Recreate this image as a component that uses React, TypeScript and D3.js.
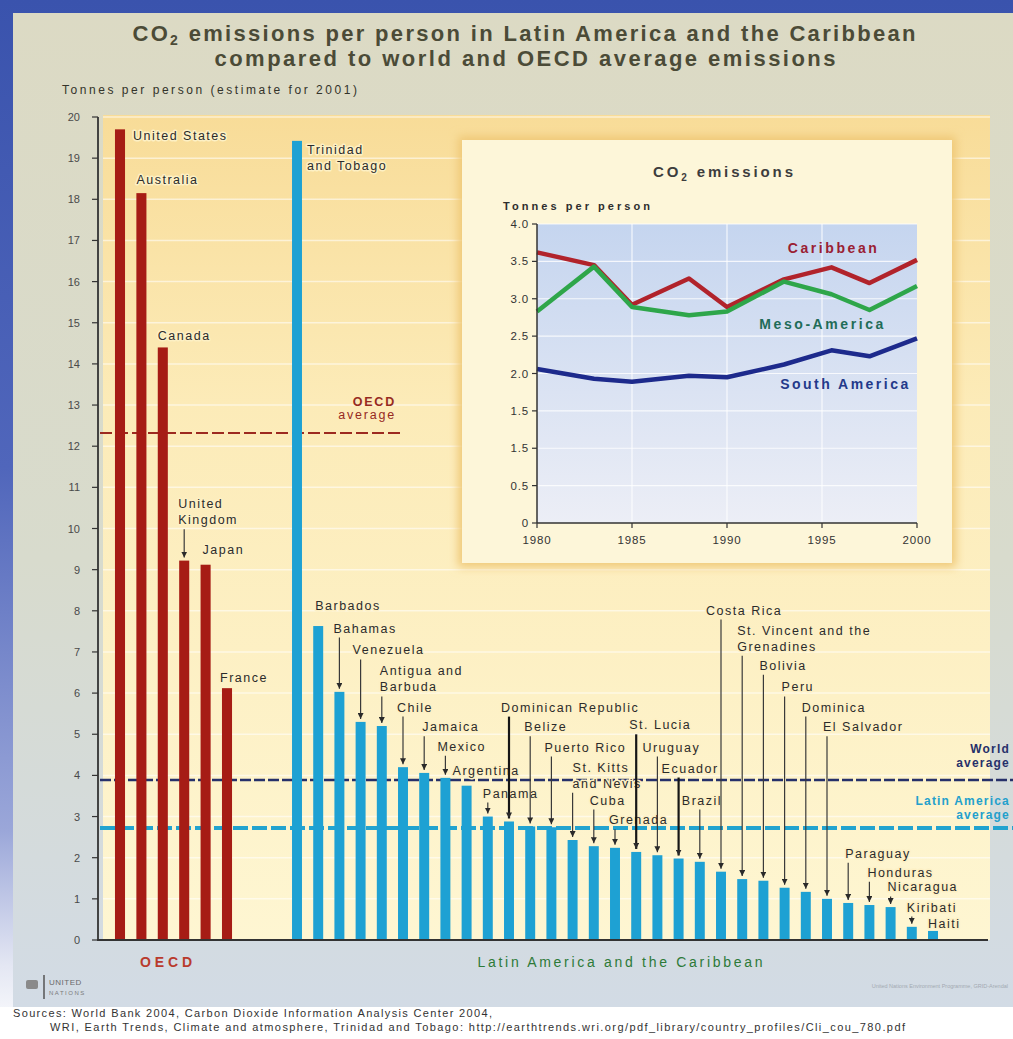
import React from "react"
import * as d3 from "d3"

const OECD_RED = "#a61c15"
const LATIN_BLUE = "#1ea1d3"

const oecdCountries = ["United States", "Australia", "Canada", "United Kingdom", "Japan", "France"]
const oecdValues = [19.7, 18.15, 14.4, 9.22, 9.12, 6.12]

const latinCountries = [
  "Trinidad and Tobago", "Barbados", "Bahamas", "Venezuela", "Antigua and Barbuda", "Chile", "Jamaica", "Mexico",
  "Argentina", "Panama", "Dominican Republic", "Belize", "Puerto Rico", "St. Kitts and Nevis", "Cuba", "Grenada",
  "St. Lucia", "Uruguay", "Ecuador", "Brazil", "Costa Rica", "St. Vincent and the Grenadines", "Bolivia", "Peru",
  "Dominica", "El Salvador", "Paraguay", "Honduras", "Nicaragua", "Kiribati", "Haiti",
]
const latinValues = [
  19.42, 7.63, 6.03, 5.3, 5.2, 4.2, 4.06, 3.94, 3.75, 3.0, 2.88, 2.76, 2.74, 2.43, 2.28, 2.24, 2.14, 2.06, 1.98,
  1.9, 1.66, 1.48, 1.44, 1.27, 1.17, 1.0, 0.9, 0.85, 0.8, 0.32, 0.22,
]

const oecdAverage = 12.32
const worldAverage = 3.89
const latinAverage = 2.72

const yTicks = d3.range(0, 21)

// inset: CO2 emissions 1980-2000
const insetYears = [1980, 1983, 1985, 1988, 1990, 1993, 1995.5, 1997.5, 2000]
const caribbean = [3.62, 3.45, 2.92, 3.27, 2.89, 3.26, 3.42, 3.21, 3.52]
const mesoAmerica = [2.83, 3.43, 2.89, 2.78, 2.83, 3.23, 3.06, 2.85, 3.17]
const southAmerica = [2.06, 1.93, 1.89, 1.97, 1.95, 2.12, 2.31, 2.23, 2.47]
const insetYTicks = [0, 0.5, 1, 1.5, 2, 2.5, 3, 3.5, 4]
const insetYTickLabels = ["0", "0.5", "1.5", "1.5", "2.0", "2.5", "3.0", "3.5", "4.0"]
const insetXTicks = [1980, 1985, 1990, 1995, 2000]

// where each country name sits: dx from bar centre (px), level = baseline in tonnes
type Label = { lines: string[]; dx: number; level: number; arrow?: "thin" | "thick" }
const labelLayout: Record<string, Label> = {
  "United States": { lines: ["United States"], dx: 13, level: 19.43 },
  Australia: { lines: ["Australia"], dx: -5, level: 18.36 },
  Canada: { lines: ["Canada"], dx: -5, level: 14.57 },
  "United Kingdom": { lines: ["United", "Kingdom"], dx: -6, level: 10.49, arrow: "thin" },
  Japan: { lines: ["Japan"], dx: -3, level: 9.37 },
  France: { lines: ["France"], dx: -7, level: 6.28 },
  "Trinidad and Tobago": { lines: ["Trinidad", "and Tobago"], dx: 10, level: 19.11 },
  Barbados: { lines: ["Barbados"], dx: -3, level: 8.03 },
  Bahamas: { lines: ["Bahamas"], dx: -6, level: 7.47, arrow: "thin" },
  Venezuela: { lines: ["Venezuela"], dx: -8, level: 6.94, arrow: "thin" },
  "Antigua and Barbuda": { lines: ["Antigua and", "Barbuda"], dx: -2, level: 6.43, arrow: "thin" },
  Chile: { lines: ["Chile"], dx: -6, level: 5.55, arrow: "thin" },
  Jamaica: { lines: ["Jamaica"], dx: -2, level: 5.07, arrow: "thin" },
  Mexico: { lines: ["Mexico"], dx: -8, level: 4.6, arrow: "thin" },
  Argentina: { lines: ["Argentina"], dx: -14, level: 4.02 },
  Panama: { lines: ["Panama"], dx: -5, level: 3.46, arrow: "thin" },
  "Dominican Republic": { lines: ["Dominican Republic"], dx: -8, level: 5.55, arrow: "thick" },
  Belize: { lines: ["Belize"], dx: -6, level: 5.07, arrow: "thin" },
  "Puerto Rico": { lines: ["Puerto Rico"], dx: -7, level: 4.58, arrow: "thin" },
  "St. Kitts and Nevis": { lines: ["St. Kitts", "and Nevis"], dx: 0, level: 4.09, arrow: "thin" },
  Cuba: { lines: ["Cuba"], dx: -4, level: 3.29, arrow: "thin" },
  Grenada: { lines: ["Grenada"], dx: -6, level: 2.81, arrow: "thin" },
  "St. Lucia": { lines: ["St. Lucia"], dx: -7, level: 5.12, arrow: "thick" },
  Uruguay: { lines: ["Uruguay"], dx: -15, level: 4.58, arrow: "thin" },
  Ecuador: { lines: ["Ecuador"], dx: -17, level: 4.07, arrow: "thick" },
  Brazil: { lines: ["Brazil"], dx: -18, level: 3.29, arrow: "thin" },
  "Costa Rica": { lines: ["Costa Rica"], dx: -15, level: 7.91, arrow: "thin" },
  "St. Vincent and the Grenadines": { lines: ["St. Vincent and the", "Grenadines"], dx: -5, level: 7.42, arrow: "thin" },
  Bolivia: { lines: ["Bolivia"], dx: -4, level: 6.57, arrow: "thin" },
  Peru: { lines: ["Peru"], dx: -3, level: 6.04, arrow: "thin" },
  Dominica: { lines: ["Dominica"], dx: -4, level: 5.55, arrow: "thin" },
  "El Salvador": { lines: ["El Salvador"], dx: -4, level: 5.07, arrow: "thin" },
  Paraguay: { lines: ["Paraguay"], dx: -3, level: 2.0, arrow: "thin" },
  Honduras: { lines: ["Honduras"], dx: -2, level: 1.54, arrow: "thin" },
  Nicaragua: { lines: ["Nicaragua"], dx: -3, level: 1.18, arrow: "thin" },
  Kiribati: { lines: ["Kiribati"], dx: -5, level: 0.69, arrow: "thin" },
  Haiti: { lines: ["Haiti"], dx: -5, level: 0.3 },
}

const FONT = "'Liberation Sans', Arial, Helvetica, sans-serif"
const LINE_H = 16

export default function App() {
  const width = 1013
  const height = 1039

  const y = d3.scaleLinear().domain([0, 20]).range([940, 117])
  const oecdX = d3.scaleBand<string>().domain(oecdCountries).range([109.3, 237.7]).paddingInner(0.53).paddingOuter(0.265)
  const latinX = d3
    .scaleBand<string>()
    .domain(latinCountries)
    .range([286.4, 943.6])
    .paddingInner(0.53)
    .paddingOuter(0.265)

  const bars = [
    ...oecdCountries.map((name, i) => ({ name, value: oecdValues[i], x: oecdX(name)!, w: oecdX.bandwidth(), color: OECD_RED })),
    ...latinCountries.map((name, i) => ({
      name,
      value: latinValues[i],
      x: latinX(name)!,
      w: latinX.bandwidth(),
      color: LATIN_BLUE,
    })),
  ]

  const ix = d3.scaleLinear().domain([1980, 2000]).range([537, 917])
  const iy = d3.scaleLinear().domain([0, 4]).range([523, 224])
  const seriesLine = d3
    .line<number>()
    .x((_, i) => ix(insetYears[i]))
    .y((d) => iy(d))
  const insetSeries = [
    { name: "Caribbean", values: caribbean, stroke: "#b1232b", fill: "#9a2033", lx: 1993.2, ly: 3.61, tl: 89 },
    { name: "Meso-America", values: mesoAmerica, stroke: "#2ea64a", fill: "#1f6c58", lx: 1991.7, ly: 2.6, tl: 124 },
    { name: "South America", values: southAmerica, stroke: "#1d2a8c", fill: "#23398a", lx: 1992.8, ly: 1.79, tl: 128 },
  ]

  const halo = { paintOrder: "stroke" as const, stroke: "#fdf0c4", strokeWidth: 3, strokeLinejoin: "round" as const }

  return (
    <div style={{ position: "absolute", left: 0, top: 0 }}>
      <svg width={width} height={height} style={{ display: "block", fontFamily: FONT }}>
        <defs>
          <linearGradient id="outerBg" x1="0" y1="0" x2="0" y2="1">
            <stop offset="0" stopColor="#3a53ad" />
            <stop offset="0.45" stopColor="#5066bb" />
            <stop offset="0.8" stopColor="#9ba7d9" />
            <stop offset="0.93" stopColor="#e4e7f3" />
            <stop offset="1" stopColor="#ffffff" />
          </linearGradient>
          <linearGradient id="panelBg" x1="0" y1="0" x2="0" y2="1">
            <stop offset="0" stopColor="#dcdac4" />
            <stop offset="0.55" stopColor="#d8dbcd" />
            <stop offset="1" stopColor="#d2dbe5" />
          </linearGradient>
          <linearGradient id="plotBg" x1="0" y1="0" x2="0" y2="1">
            <stop offset="0" stopColor="#f8dc98" />
            <stop offset="0.35" stopColor="#fcebb8" />
            <stop offset="1" stopColor="#fef6d2" />
          </linearGradient>
          <linearGradient id="insetPlotBg" x1="0" y1="0" x2="0" y2="1">
            <stop offset="0" stopColor="#c5d5ef" />
            <stop offset="1" stopColor="#eceef6" />
          </linearGradient>
          <filter id="blur" x="-10%" y="-10%" width="120%" height="120%">
            <feGaussianBlur stdDeviation="5" />
          </filter>
          <marker id="arrowHead" viewBox="0 0 6 6" refX="6" refY="3" markerWidth="6" markerHeight="6" orient="auto" markerUnits="userSpaceOnUse">
            <path d="M0,0 L6,3 L0,6 z" fill="#2a2a2a" />
          </marker>
        </defs>

        {/* backgrounds */}
        <rect x={0} y={0} width={width} height={height} fill="url(#outerBg)" />
        <rect x={13} y={13} width={width - 13} height={994} fill="url(#panelBg)" />
        <rect x={0} y={1007} width={width} height={height - 1007} fill="#ffffff" />

        {/* title */}
        <text x={524} y={41} textAnchor="middle" fontSize={22} fontWeight="bold" fill="#4b4b37" textLength={783} lengthAdjust="spacing">
          CO<tspan dy={4} fontSize={14}>2</tspan>
          <tspan dy={-4}> emissions per person in Latin America and the Caribbean</tspan>
        </text>
        <text x={525} y={66} textAnchor="middle" fontSize={22} fontWeight="bold" fill="#4b4b37" textLength={621} lengthAdjust="spacing">
          compared to world and OECD average emissions
        </text>
        <text x={62} y={94} fontSize={12} fill="#33332a" textLength={295} lengthAdjust="spacing">
          Tonnes per person (estimate for 2001)
        </text>

        {/* plot background and grid */}
        <rect x={103} y={115} width={887} height={y(0) - 115} fill="url(#plotBg)" />
        {yTicks
          .filter((t) => t > 0)
          .map((t) => (
            <line key={t} x1={103} x2={990} y1={y(t)} y2={y(t)} stroke="#ffffff" strokeOpacity={0.55} strokeWidth={1.5} />
          ))}

        {/* averages */}
        <line x1={100} x2={400} y1={y(oecdAverage)} y2={y(oecdAverage)} stroke="#9c2a20" strokeWidth={2} strokeDasharray="12 4" />
        <line x1={100} x2={width} y1={y(worldAverage)} y2={y(worldAverage)} stroke="#26306a" strokeWidth={2.5} strokeDasharray="11 3" />
        <line x1={100} x2={width} y1={y(latinAverage)} y2={y(latinAverage)} stroke="#22a3cf" strokeWidth={4} strokeDasharray="15 4" />

        {/* bars */}
        {bars.map((b) => (
          <rect key={b.name} x={b.x} y={y(b.value)} width={b.w} height={y(0) - y(b.value)} fill={b.color} />
        ))}

        {/* y axis */}
        <line x1={98} x2={98} y1={y(20)} y2={y(0)} stroke="#333" strokeWidth={1.8} />
        <line x1={97} x2={988} y1={y(0)} y2={y(0)} stroke="#333" strokeWidth={2} />
        {yTicks.map((t) => (
          <g key={t}>
            <line x1={92} x2={98} y1={y(t)} y2={y(t)} stroke="#333" strokeWidth={1.2} />
            <text x={80} y={y(t) + 4} textAnchor="end" fontSize={11} fill="#4a4a4a">
              {t}
            </text>
          </g>
        ))}

        {/* average labels */}
        <g fontSize={12.5} fill="#962a1f" textAnchor="end" letterSpacing={1.8}>
          <text x={396} y={406} fontWeight="bold">OECD</text>
          <text x={396} y={419}>average</text>
        </g>
        <g fontSize={12} fontWeight="bold" textAnchor="end" letterSpacing={1.2}>
          <text x={1010} y={753} fill="#26306a">World</text>
          <text x={1010} y={767} fill="#26306a">average</text>
          <text x={1010} y={805} fill="#23a0cc">Latin America</text>
          <text x={1010} y={819} fill="#23a0cc">average</text>
        </g>

        {/* country labels and pointers */}
        {bars.map((b) => {
          const lab = labelLayout[b.name]
          if (!lab) return null
          const cx = b.x + b.w / 2
          const base = y(lab.level)
          const lastBase = base + (lab.lines.length - 1) * LINE_H
          return (
            <g key={b.name}>
              {lab.arrow && (
                <line
                  x1={cx}
                  x2={cx}
                  y1={lastBase + 5}
                  y2={y(b.value) - 3}
                  stroke={lab.arrow === "thick" ? "#161616" : "#3a3a3a"}
                  strokeWidth={lab.arrow === "thick" ? 2.2 : 1.2}
                  markerEnd="url(#arrowHead)"
                />
              )}
              {lab.lines.map((ln, i) => (
                <text key={i} x={cx + lab.dx} y={base + i * LINE_H} fontSize={12.5} letterSpacing={1.5} fill="#2b2b2b" style={halo}>
                  {ln}
                </text>
              ))}
            </g>
          )
        })}

        {/* group names */}
        <text x={166} y={967} textAnchor="middle" fontSize={14} fontWeight="bold" fill="#b93a2c" textLength={52} lengthAdjust="spacing">
          OECD
        </text>
        <text x={620} y={967} textAnchor="middle" fontSize={14} fill="#2d7a38" textLength={285} lengthAdjust="spacing">
          Latin America and the Caribbean
        </text>

        {/* logo + credits */}
        <g fill="#6d6d6d" stroke="none">
          <rect x={26} y={980} width={12} height={9} rx={2} fill="#8a8a8a" />
          <line x1={44} x2={44} y1={975} y2={999} stroke="#555" strokeWidth={1.5} />
          <text x={49} y={985} fontSize={8} fill="#6a6a6a" letterSpacing={0.5}>UNITED</text>
          <text x={49} y={995} fontSize={6} fill="#7a7a7a" letterSpacing={1.5}>NATIONS</text>
        </g>
        <text x={1008} y={988} textAnchor="end" fontSize={5.5} fill="#a3aab2">
          United Nations Environment Programme, GRID-Arendal
        </text>

        {/* sources */}
        <text x={13} y={1017} fontSize={11} fill="#333" textLength={479} lengthAdjust="spacing">
          Sources: World Bank 2004, Carbon Dioxide Information Analysis Center 2004,
        </text>
        <text x={50} y={1031} fontSize={11} fill="#333" textLength={855} lengthAdjust="spacing">
          WRI, Earth Trends, Climate and atmosphere, Trinidad and Tobago: http://earthtrends.wri.org/pdf_library/country_profiles/Cli_cou_780.pdf
        </text>

        {/* inset chart */}
        <rect x={458} y={136} width={498} height={431} fill="#efc877" filter="url(#blur)" />
        <rect x={462} y={140} width={490} height={423} fill="#fdf6d9" />
        <text x={723} y={177} textAnchor="middle" fontSize={15} fontWeight="bold" fill="#3d3d3d" textLength={140} lengthAdjust="spacing">
          CO<tspan dy={4} fontSize={10}>2</tspan>
          <tspan dy={-4}> emissions</tspan>
        </text>
        <text x={503} y={210} fontSize={11} fontWeight="bold" fill="#2e2e2e" textLength={147} lengthAdjust="spacing">
          Tonnes per person
        </text>
        <rect x={ix(1980)} y={iy(4)} width={ix(2000) - ix(1980)} height={iy(0) - iy(4)} fill="url(#insetPlotBg)" />
        {insetYTicks
          .filter((t) => t > 0)
          .map((t) => (
            <line key={t} x1={ix(1980)} x2={ix(2000)} y1={iy(t)} y2={iy(t)} stroke="#ffffff" strokeOpacity={0.8} strokeWidth={1.2} />
          ))}
        {insetXTicks
          .filter((t) => t > 1980 && t < 2000)
          .map((t) => (
            <line key={t} x1={ix(t)} x2={ix(t)} y1={iy(0)} y2={iy(4)} stroke="#ffffff" strokeOpacity={0.8} strokeWidth={1.2} />
          ))}
        {insetSeries.map((s) => (
          <path key={s.name} d={seriesLine(s.values) ?? ""} fill="none" stroke={s.stroke} strokeWidth={4.5} strokeLinejoin="round" />
        ))}
        {insetSeries.map((s) => (
          <text key={s.name} x={ix(s.lx)} y={iy(s.ly)} fontSize={14} fontWeight="bold" fill={s.fill} textLength={s.tl} lengthAdjust="spacing">
            {s.name}
          </text>
        ))}
        <line x1={ix(1980)} x2={ix(1980)} y1={iy(4)} y2={iy(0)} stroke="#333" strokeWidth={1.5} />
        <line x1={ix(1980)} x2={ix(2000)} y1={iy(0)} y2={iy(0)} stroke="#333" strokeWidth={1.5} />
        {insetYTicks.map((t, i) => (
          <g key={t}>
            <line x1={ix(1980) - 5} x2={ix(1980)} y1={iy(t)} y2={iy(t)} stroke="#333" strokeWidth={1.2} />
            <text x={529} y={iy(t) + 4} textAnchor="end" fontSize={11.5} fill="#333" letterSpacing={0.8}>
              {insetYTickLabels[i]}
            </text>
          </g>
        ))}
        {insetXTicks.map((t) => (
          <g key={t}>
            <line x1={ix(t)} x2={ix(t)} y1={iy(0)} y2={iy(0) + 5} stroke="#333" strokeWidth={1.2} />
            <text x={ix(t)} y={iy(0) + 21} textAnchor="middle" fontSize={11.5} fill="#333" letterSpacing={0.8}>
              {t}
            </text>
          </g>
        ))}
      </svg>
    </div>
  )
}
